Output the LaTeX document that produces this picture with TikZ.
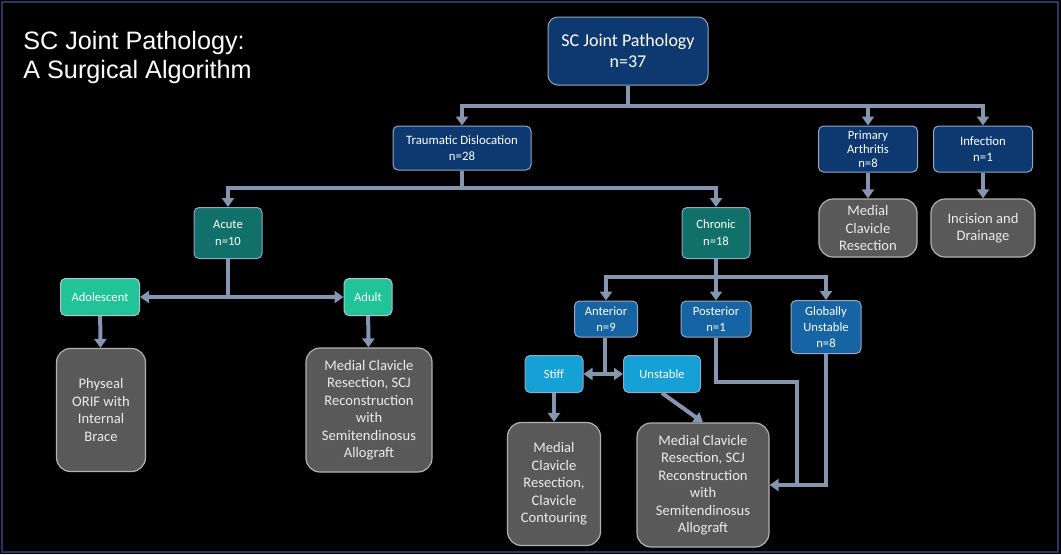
\documentclass[tikz,border=0pt]{standalone}
\usepackage{fontspec}
\setmainfont{Carlito}
\newfontfamily\titlefont{Liberation Sans}
\usetikzlibrary{arrows.meta,positioning,calc}
\definecolor{navybox}{RGB}{13,57,112}
\definecolor{tealbox}{RGB}{17,112,106}
\definecolor{mintbox}{RGB}{32,196,152}
\definecolor{midblue}{RGB}{22,100,164}
\definecolor{skyblue}{RGB}{21,160,214}
\definecolor{greybox}{RGB}{89,89,89}
\definecolor{linkgray}{RGB}{132,150,176}
\definecolor{edgeblue}{RGB}{150,168,196}
\definecolor{framenavy}{RGB}{40,54,100}

\begin{document}
\begin{tikzpicture}[
    x=0.5pt, y=-0.5pt,
    every node/.style={text=white, align=center, inner sep=1pt},
    navynode/.style={rectangle, draw=edgeblue, fill=navybox, rounded corners=2.5pt, line width=0.5pt,
                     font=\fontsize{6.4}{8}\selectfont},
    tealnode/.style={rectangle, draw=edgeblue, fill=tealbox, rounded corners=2.5pt, line width=0.5pt,
                     font=\fontsize{6.3}{8.6}\selectfont},
    mintnode/.style={rectangle, draw=edgeblue!70!white, fill=mintbox, rounded corners=2.5pt, line width=0.5pt,
                     font=\fontsize{6.3}{8}\selectfont, minimum height=18.5pt},
    bluenode/.style={rectangle, draw=edgeblue, fill=midblue, rounded corners=2.5pt, line width=0.5pt,
                     font=\fontsize{6.3}{8}\selectfont},
    skynode/.style={rectangle, draw=edgeblue, fill=skyblue, rounded corners=2.5pt, line width=0.5pt,
                    font=\fontsize{6.3}{8}\selectfont, minimum height=18.5pt},
    treatbox/.style={rectangle, draw=gray!60, fill=greybox, rounded corners=7pt, line width=0.6pt,
                     text=white!92!black, font=\fontsize{7.3}{8.75}\selectfont},
    link/.style={line width=2pt, color=linkgray},
    arrow/.style={link, -{Triangle[length=4.5pt, width=6pt]}},
    twoway/.style={link, {Triangle[length=4.5pt, width=6pt]}-{Triangle[length=4.5pt, width=6pt]}}
]
\fill[black] (0,0) rectangle (1061,554);
\draw[framenavy, line width=1pt] (1.5,1.5) rectangle (1057.5,552);

\node[anchor=north west, align=left, inner sep=0pt, font=\titlefont\fontsize{12.6}{14.5}\selectfont]
    (title) at (23,31) {SC Joint Pathology:\\A Surgical Algorithm};

% top level
\node[navynode, rounded corners=5pt, minimum width=80pt, minimum height=34pt,
      font=\fontsize{9}{10.5}\selectfont] (root) at (628,51) {SC Joint Pathology\\n=37};
\node[navynode, minimum width=69pt, minimum height=22pt] (trauma) at (462,148) {Traumatic Dislocation\\n=28};
\node[navynode, minimum width=49.5pt, minimum height=23pt,
      font=\fontsize{6.3}{7.1}\selectfont] (arthr) at (868,149) {Primary\\Arthritis\\n=8};
\node[navynode, minimum width=49.5pt, minimum height=23pt] (infect) at (983,149) {Infection\\n=1};
\node[treatbox, minimum width=49pt, minimum height=29pt] (resect) at (868,228) {Medial\\Clavicle\\Resection};
\node[treatbox, minimum width=52pt, minimum height=29pt] (drain) at (983,228) {Incision and\\Drainage};

% traumatic branch
\node[tealnode, minimum width=34pt, minimum height=25.5pt] (acute) at (228,233) {Acute\\n=10};
\node[tealnode, minimum width=34pt, minimum height=25.5pt] (chronic) at (716,233) {Chronic\\n=18};
\node[mintnode, minimum width=39.5pt] (adol) at (100,297) {Adolescent};
\node[mintnode, minimum width=24pt] (adult) at (368,297) {Adult};
\node[treatbox, minimum width=44.5pt, minimum height=61.5pt] (physeal) at (101,410)
    {Physeal\\ORIF with\\Internal\\Brace};
\node[treatbox, minimum width=63pt, minimum height=62pt] (recona) at (369,410)
    {Medial Clavicle\\Resection, SCJ\\Reconstruction\\with\\Semitendinosus\\Allograft};

% chronic branch
\node[bluenode, minimum width=31.5pt, minimum height=18pt] (anterior) at (606,319) {Anterior\\n=9};
\node[bluenode, minimum width=35pt, minimum height=18pt] (posterior) at (716,319) {Posterior\\n=1};
\node[bluenode, minimum width=35pt, minimum height=26.5pt] (global) at (826,327) {Globally\\Unstable\\n=8};
\node[skynode, minimum width=29pt] (stiff) at (554,374) {Stiff};
\node[skynode, minimum width=38.5pt] (unstable) at (662,374) {Unstable};
\node[treatbox, minimum width=46.5pt, minimum height=61.5pt] (contour) at (554,484)
    {Medial\\Clavicle\\Resection,\\Clavicle\\Contouring};
\node[treatbox, minimum width=66pt, minimum height=62pt] (reconb) at (703,485)
    {Medial Clavicle\\Resection, SCJ\\Reconstruction\\with\\Semitendinosus\\Allograft};

% junctions
\coordinate (j0) at (628,106);
\coordinate (j1) at (462,188);
\coordinate (j2) at (228,297);
\coordinate (j3) at (716,277);
\coordinate (j4) at (605,374);
\coordinate (j5) at (797,382);
\coordinate (j6) at (797,485);

\draw[link] (root.south) -- (j0);
\draw[arrow] (j0) -| (trauma.north);
\draw[arrow] (j0) -| (arthr.north);
\draw[arrow] (j0) -| (infect.north);
\draw[arrow] (arthr) -- (resect);
\draw[arrow] (infect) -- (drain);

\draw[link] (trauma.south) -- (j1);
\draw[arrow] (j1) -| (acute.north);
\draw[arrow] (j1) -| (chronic.north);
\draw[link] (acute.south) -- (j2);
\draw[arrow] (j2) -- (adol.east);
\draw[arrow] (j2) -- (adult.west);
\draw[arrow] (adol) -- (physeal);
\draw[arrow] (adult) -- (recona);

\draw[link] (chronic.south) -- (j3);
\draw[arrow] (j3) -| (anterior.north);
\draw[arrow] (j3) -- (posterior.north);
\draw[arrow] (j3) -| (global.north);
\draw[link] (anterior.south -| j4) -- (j4);
\draw[twoway] (stiff.east) -- (unstable.west);
\draw[arrow] (stiff) -- (contour);
\draw[arrow] (unstable.south) -- (reconb.north);
\draw[link] (posterior.south) |- (j5) -- (j6);
\draw[arrow] (global.south) |- (reconb.east);
\end{tikzpicture}
\end{document}
